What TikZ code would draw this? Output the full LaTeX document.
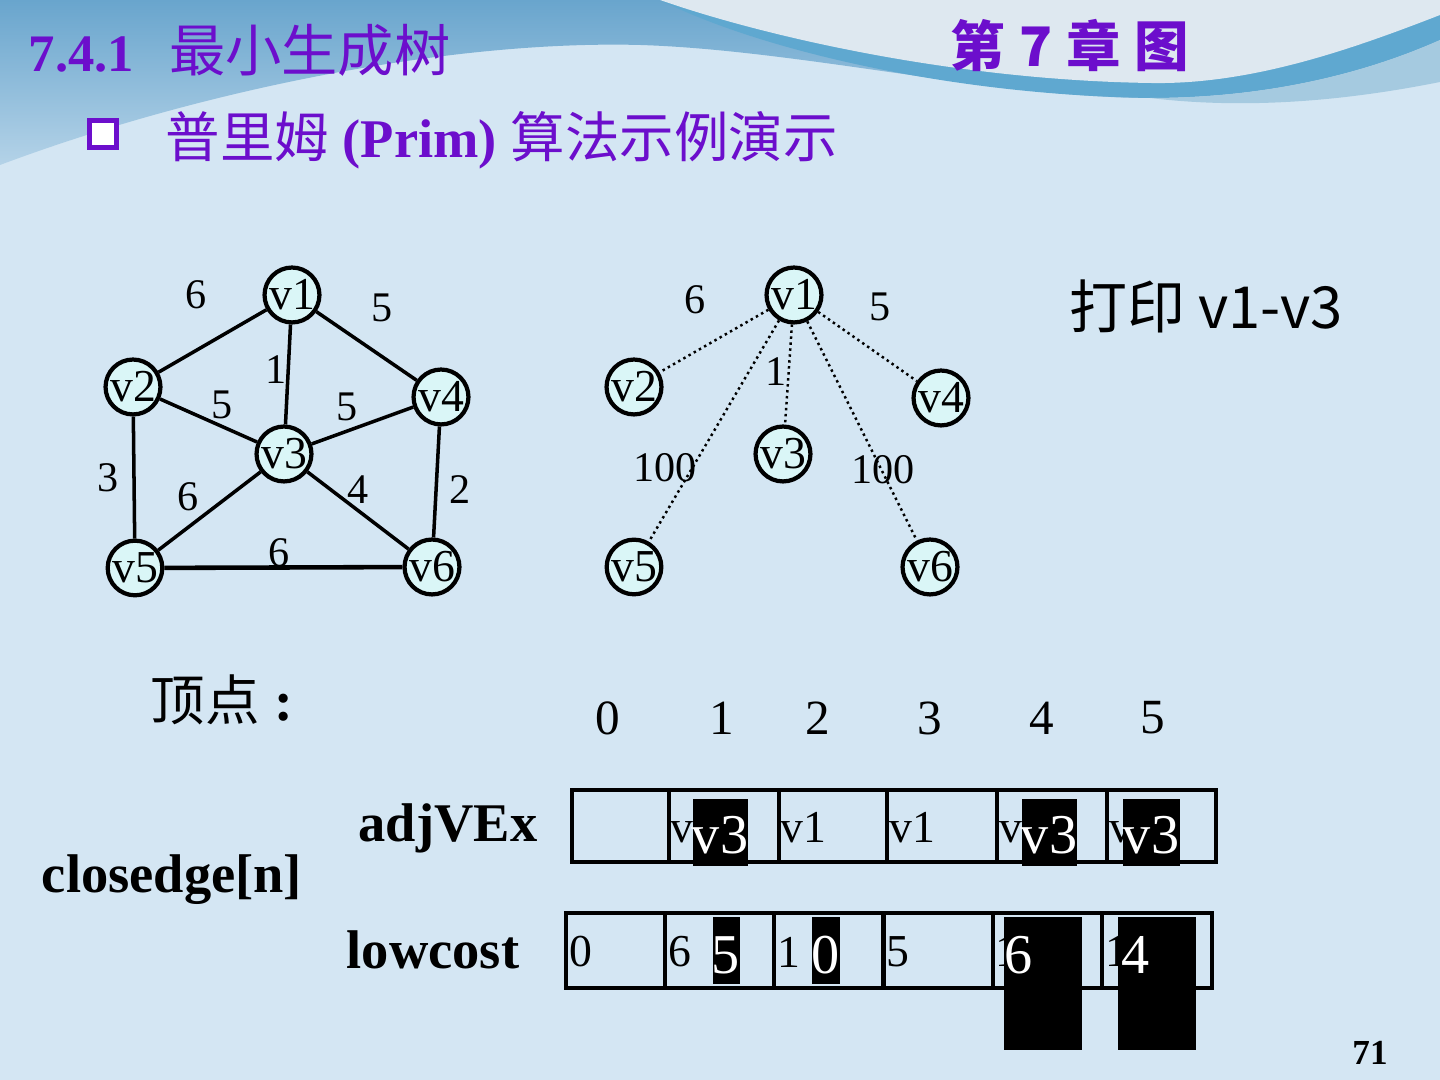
\documentclass[tikz,border=0pt]{standalone}
\usepackage{fontspec}
\setmainfont{Liberation Serif}
\newfontfamily\cjk{Noto Sans CJK SC}
\usetikzlibrary{positioning}
\newcommand{\fsz}[1]{\fontsize{#1}{#1}\selectfont}
\definecolor{bgblue}{RGB}{212,230,243}
\definecolor{topblue}{RGB}{105,165,205}
\definecolor{bandblue}{RGB}{95,168,208}
\definecolor{paleband}{RGB}{165,202,224}
\definecolor{palegrey}{RGB}{222,232,240}
\definecolor{vtxcyan}{RGB}{218,246,247}
\definecolor{ttlpurple}{RGB}{108,14,204}
\tikzset{
  vtx/.style={circle,draw=black,fill=vtxcyan,line width=1.2pt,minimum size=0.54cm,
    inner sep=0pt,font=\fsz{13}},
  edg/.style={line width=1pt},
  tedg/.style={densely dotted,line width=0.7pt},
  wlbl/.style={font=\fsz{12},inner sep=0pt},
  idx/.style={font=\fsz{14},inner sep=0pt},
  hdr/.style={font=\fsz{15.5}\bfseries,inner sep=0pt},
  ttl/.style={text=ttlpurple,inner sep=0pt,anchor=west},
  cellbox/.style={line width=1.2pt},
  celltxt/.style={font=\fsz{13},inner sep=0pt,anchor=west},
  blktxt/.style={font=\fsz{16},text=white,inner sep=0pt},
}
\begin{document}
\begin{tikzpicture}
  % slide background
  \fill[bgblue] (0,0) rectangle (14.4,10.8);
  \shade[top color=topblue,bottom color=bgblue!70!topblue]
    (0,10.8) -- (14.4,10.8) -- (14.4,10.4)
    .. controls (13.5,10.0) and (12.5,9.82) .. (11.5,9.82)
    .. controls (10.0,9.82) and (8.0,10.3) .. (6.4,10.35)
    .. controls (4.5,10.4) and (2.0,9.9) .. (0,9.15) -- cycle;
  \fill[bandblue] (6.6,10.8) .. controls (7.6,10.3) and (9.5,9.85) .. (11.5,9.82)
    .. controls (12.5,9.82) and (13.5,10.0) .. (14.4,10.4) -- (14.4,10.8) -- cycle;
  \fill[palegrey] (6.6,10.8) .. controls (7.6,10.45) and (9.5,10.0) .. (11.5,9.97)
    .. controls (12.5,9.95) and (13.5,10.3) .. (14.4,10.65) -- (14.4,10.8) -- cycle;
  \fill[paleband] (14.4,10.4) .. controls (13.5,10.0) and (12.5,9.82) .. (11.5,9.82)
    .. controls (12.5,9.7) and (13.5,9.8) .. (14.4,9.98) -- cycle;

  % titles
  \node[ttl,font=\fsz{15}] (sec) at (0.28,10.30) {\textbf{7.4.1}\hspace{0.35cm}{\cjk\fsz{16}最小生成树}};
  \node[ttl,font=\cjk\fsz{15.5}\bfseries] (chap) at (9.50,10.34) {第\hspace{0.14cm}7\hspace{0.14cm}章\hspace{0.14cm}图};
  \node[draw=ttlpurple,fill=white,line width=1.6pt,minimum size=0.27cm,inner sep=0pt] (bul) at (1.03,9.46) {};
  \node[ttl,font=\fsz{15.5}] (sub) at (1.65,9.40)
    {{\cjk 普里姆} \textbf{(Prim)} {\cjk 算法示例演示}};

  % full graph
  \node[vtx] (av1) at (2.92,7.85) {v1};
  \node[vtx] (av2) at (1.33,6.93) {v2};
  \node[vtx] (av3) at (2.84,6.26) {v3};
  \node[vtx] (av4) at (4.41,6.83) {v4};
  \node[vtx] (av5) at (1.35,5.12) {v5};
  \node[vtx] (av6) at (4.32,5.13) {v6};
  \draw[edg] (av1) -- (av2);
  \draw[edg] (av1) -- (av4);
  \draw[edg] (av1) -- (av3);
  \draw[edg] (av2) -- (av3);
  \draw[edg] (av3) -- (av4);
  \draw[edg] (av2) -- (av5);
  \draw[edg] (av3) -- (av5);
  \draw[edg] (av3) -- (av6);
  \draw[edg] (av4) -- (av6);
  \draw[edg,line width=1.3pt] (av5) -- (av6);
  \node[wlbl] (a12) at (1.96,7.85) {6};
  \node[wlbl] (a14) at (3.82,7.72) {5};
  \node[wlbl] (a13) at (2.76,7.10) {1};
  \node[wlbl] (a23) at (2.22,6.75) {5};
  \node[wlbl] (a34) at (3.47,6.73) {5};
  \node[wlbl] (a25) at (1.08,6.02) {3};
  \node[wlbl] (a35) at (1.88,5.83) {6};
  \node[wlbl] (a36) at (3.58,5.90) {4};
  \node[wlbl] (a46) at (4.60,5.90) {2};
  \node[wlbl] (a56) at (2.79,5.27) {6};

  % current state: edges out of v1
  \node[vtx] (bv1) at (7.94,7.85) {v1};
  \node[vtx] (bv2) at (6.34,6.93) {v2};
  \node[vtx] (bv3) at (7.83,6.26) {v3};
  \node[vtx] (bv4) at (9.41,6.82) {v4};
  \node[vtx] (bv5) at (6.34,5.13) {v5};
  \node[vtx] (bv6) at (9.30,5.13) {v6};
  \draw[tedg] (bv1) -- (bv2);
  \draw[tedg] (bv1) -- (bv5);
  \draw[tedg] (bv1) -- (bv3);
  \draw[tedg] (bv1) -- (bv6);
  \draw[tedg] (bv1) -- (bv4);
  \node[wlbl] (b12) at (6.95,7.80) {6};
  \node[wlbl] (b14) at (8.80,7.73) {5};
  \node[wlbl] (b13) at (7.76,7.08) {1};
  \node[wlbl] (b15) at (6.65,6.12) {100};
  \node[wlbl] (b16) at (8.83,6.10) {100};
  \node[font=\cjk\fsz{16.5}] (prt) at (12.06,7.74) {打印 v1-v3};

  % closedge array
  \node[inner sep=0pt] (vlbl) at (2.22,3.80) {{\cjk\fsz{15.5}顶点}\hspace{0.15cm}\textbf{\fsz{16}:}};
  \node[idx] (ix0) at (6.08,3.62) {0};
  \node[idx] (ix1) at (7.22,3.62) {1};
  \node[idx] (ix2) at (8.18,3.62) {2};
  \node[idx] (ix3) at (9.30,3.62) {3};
  \node[idx] (ix4) at (10.42,3.62) {4};
  \node[idx] (ix5) at (11.53,3.62) {5};
  \node[hdr] (adj) at (4.48,2.52) {adjVEx};
  \node[hdr] (cls) at (1.72,2.00) {closedge[n]};
  \node[hdr] (low) at (4.33,1.30) {lowcost};

  \draw[cellbox] (5.72,2.18) rectangle (12.16,2.90);
  \draw[cellbox] (6.69,2.18) -- (6.69,2.90);
  \draw[cellbox] (7.79,2.18) -- (7.79,2.90);
  \draw[cellbox] (8.87,2.18) -- (8.87,2.90);
  \draw[cellbox] (9.97,2.18) -- (9.97,2.90);
  \draw[cellbox] (11.07,2.18) -- (11.07,2.90);
  \node[celltxt] (ad1) at (6.70,2.52) {v1};
  \node[celltxt] (ad2) at (7.80,2.52) {v1};
  \node[celltxt] (ad3) at (8.89,2.52) {v1};
  \node[celltxt] (ad4) at (9.99,2.52) {v1};
  \node[celltxt] (ad5) at (11.09,2.52) {v1};
  \fill[black] (6.925,2.14) rectangle (7.48,2.81);
  \fill[black] (10.215,2.14) rectangle (10.77,2.81);
  \fill[black] (11.23,2.14) rectangle (11.80,2.81);
  \node[blktxt] (nad1) at (7.20,2.45) {v3};
  \node[blktxt] (nad4) at (10.49,2.45) {v3};
  \node[blktxt] (nad5) at (11.51,2.45) {v3};

  \draw[cellbox] (5.66,0.92) rectangle (12.12,1.67);
  \draw[cellbox] (6.65,0.92) -- (6.65,1.67);
  \draw[cellbox] (7.74,0.92) -- (7.74,1.67);
  \draw[cellbox] (8.835,0.92) -- (8.835,1.67);
  \draw[cellbox] (9.93,0.92) -- (9.93,1.67);
  \draw[cellbox] (11.02,0.92) -- (11.02,1.67);
  \node[celltxt] (lc0) at (5.69,1.28) {0};
  \node[celltxt] (lc1) at (6.68,1.28) {6};
  \node[celltxt] (lc2) at (7.77,1.28) {1};
  \node[celltxt] (lc3) at (8.86,1.28) {5};
  \node[celltxt] (lc4) at (9.95,1.28) {100};
  \node[celltxt] (lc5) at (11.05,1.28) {100};
  \fill[black] (7.125,0.96) rectangle (7.395,1.63);
  \fill[black] (8.12,0.96) rectangle (8.40,1.63);
  \fill[black] (10.04,0.30) rectangle (10.82,1.63);
  \fill[black] (11.177,0.30) rectangle (11.955,1.63);
  \node[blktxt] (nlc1) at (7.26,1.25) {5};
  \node[blktxt] (nlc2) at (8.26,1.25) {0};
  \node[blktxt] (nlc4) at (10.19,1.25) {6};
  \node[blktxt] (nlc5) at (11.355,1.25) {4};

  \node[font=\fsz{10}\bfseries] (pg) at (13.70,0.27) {71};
\end{tikzpicture}
\end{document}
